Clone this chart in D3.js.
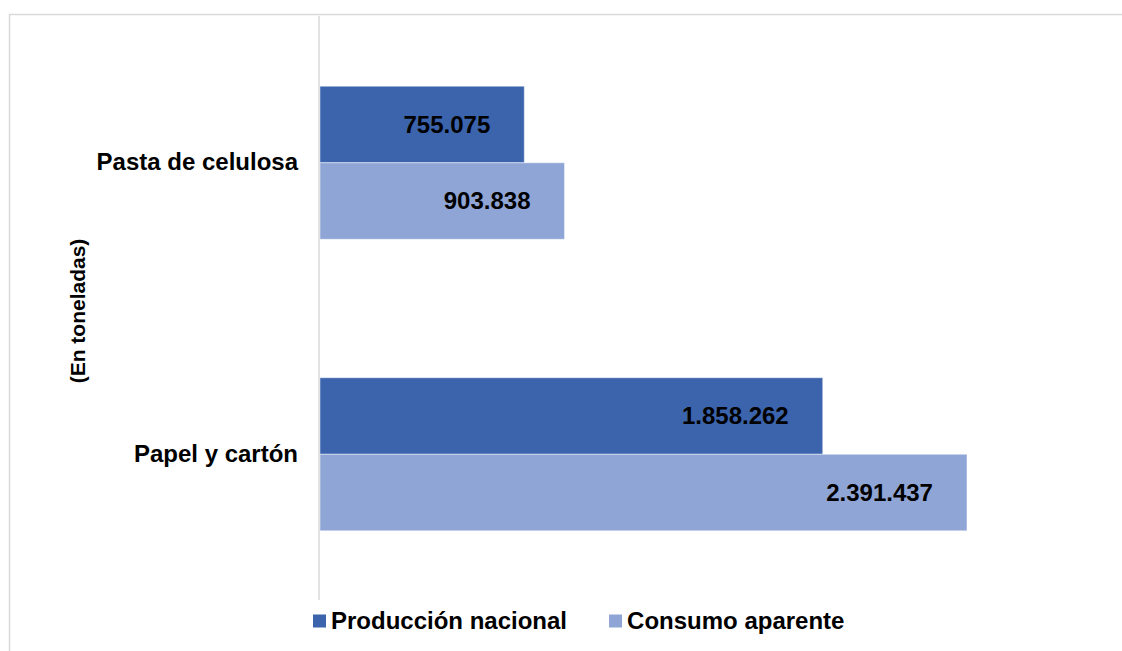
<!DOCTYPE html>
<html>
<head>
<meta charset="utf-8">
<script src="https://cdn.jsdelivr.net/npm/d3@7"></script>
<style>
  html, body { margin: 0; padding: 0; background: #ffffff; }
  svg { display: block; }
  text { font-family: "Liberation Sans", Arial, sans-serif; font-weight: bold; fill: #000; }
</style>
</head>
<body>
<svg id="chart" width="1122" height="651"></svg>
<script>
// ---- data ----
const categories = ["Pasta de celulosa", "Papel y cartón"];
const seriesNames = ["Producción nacional", "Consumo aparente"];
const produccion = [755075, 1858262];   // Producción nacional per category
const consumo = [903838, 2391437];      // Consumo aparente per category
const valueLabels = [["755.075", "903.838"], ["1.858.262", "2.391.437"]];
const axisTitle = "(En toneladas)";
const colors = ["#3B64AD", "#8FA5D5"];

const svg = d3.select("#chart");

// outer chart border
svg.append("rect")
  .attr("x", 9.5).attr("y", 14.5)
  .attr("width", 1200).attr("height", 700)
  .attr("fill", "#ffffff")
  .attr("stroke", "#d9d9d9").attr("stroke-width", 1.5);

const plotTop = 17, plotBottom = 600, plotLeft = 320;
const x = d3.scaleLinear().domain([0, 3000000]).range([plotLeft, 1131.6]);
const y = d3.scaleBand().domain(categories).range([plotTop, plotBottom])
  .paddingInner(0.475).paddingOuter(0.2375);
const ySub = d3.scaleBand().domain(seriesNames).range([0, y.bandwidth()]);

const rows = categories.map((c, i) => ({
  cat: c,
  vals: [
    { s: seriesNames[0], v: produccion[i], label: valueLabels[i][0], color: colors[0] },
    { s: seriesNames[1], v: consumo[i], label: valueLabels[i][1], color: colors[1] }
  ]
}));

const g = svg.selectAll("g.cat").data(rows).join("g")
  .attr("class", "cat")
  .attr("transform", d => `translate(0,${y(d.cat)})`);

g.selectAll("rect").data(d => d.vals).join("rect")
  .attr("x", x(0))
  .attr("y", d => ySub(d.s))
  .attr("width", d => x(d.v) - x(0))
  .attr("height", ySub.bandwidth())
  .attr("fill", d => d.color)
  .attr("stroke", "#ffffff").attr("stroke-opacity", 0.45).attr("stroke-width", 1);

g.selectAll("text.val").data(d => d.vals).join("text")
  .attr("class", "val")
  .attr("x", d => x(d.v) - 34)
  .attr("y", d => ySub(d.s) + ySub.bandwidth() / 2)
  .attr("dy", "0.35em")
  .attr("text-anchor", "end")
  .style("font-size", "24px")
  .text(d => d.label);

// vertical category axis
const yAxis = d3.axisLeft(y).tickSize(0).tickPadding(21);
const ax = svg.append("g").attr("transform", `translate(${plotLeft - 1},0)`).call(yAxis);
ax.select(".domain").attr("stroke", "#d9d9d9").attr("stroke-width", 1.5)
  .attr("d", `M0,${plotTop - 1}V${plotBottom}`);
ax.selectAll(".tick text")
  .style("font-family", '"Liberation Sans", Arial, sans-serif')
  .style("font-weight", "bold")
  .style("font-size", "24px")
  .attr("fill", "#000");

// axis title
svg.append("text")
  .attr("transform", `translate(85,311) rotate(-90)`)
  .attr("text-anchor", "middle")
  .style("font-size", "21px")
  .text(axisTitle);

// legend
const legend = svg.append("g").attr("transform", "translate(313,621)");
let lx = 0;
seriesNames.forEach((name, i) => {
  const item = legend.append("g").attr("transform", `translate(${lx},0)`);
  item.append("rect").attr("x", 0).attr("y", -6.5).attr("width", 13).attr("height", 13).attr("fill", colors[i]);
  const t = item.append("text").attr("x", 18).attr("y", 0).attr("dy", "0.35em")
    .style("font-size", "24px").text(name);
  lx += 18 + t.node().getComputedTextLength() + 42;
});
</script>
</body>
</html>
